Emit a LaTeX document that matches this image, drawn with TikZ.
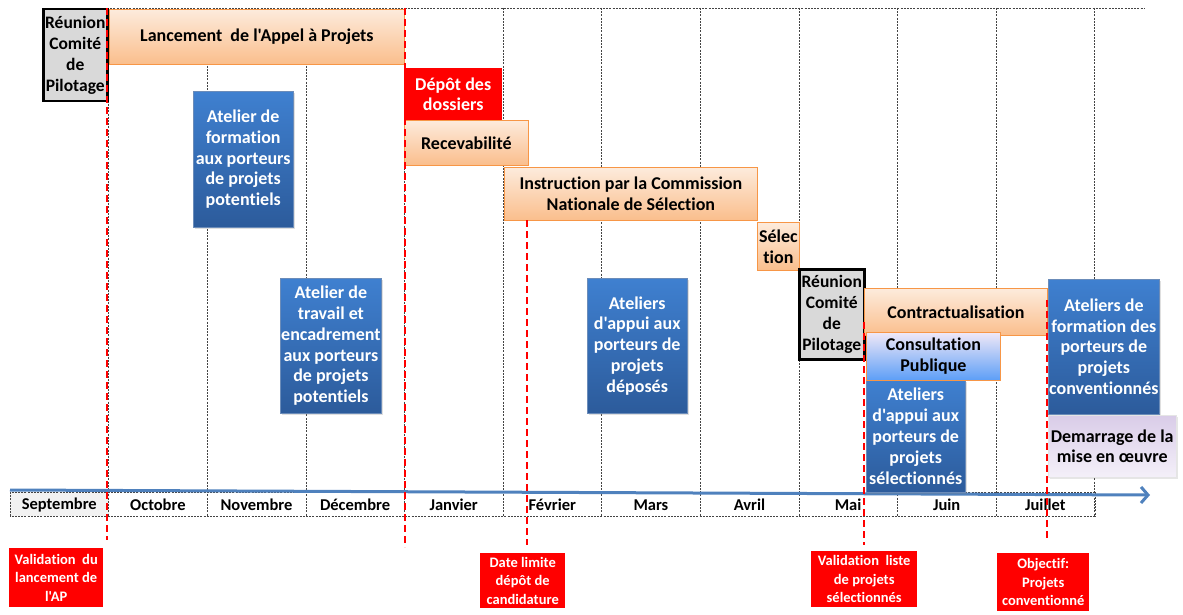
\documentclass[tikz,border=0pt]{standalone}
\usepackage{fontspec}
\setmainfont{Carlito}[Ligatures={TeXOff,NoCommon}]
\usetikzlibrary{shadows,arrows.meta}
\definecolor{ortop}{HTML}{FDEBDC}
\definecolor{orbot}{HTML}{FABE8C}
\definecolor{orbd}{HTML}{F79646}
\definecolor{bltop}{HTML}{3F80D0}
\definecolor{blbot}{HTML}{2C5B9B}
\definecolor{gridc}{HTML}{444444}
\definecolor{arrowc}{HTML}{4F81BD}
\definecolor{lavtop}{HTML}{D9CCE8}
\definecolor{lavbot}{HTML}{F4F0F9}
\definecolor{cptop}{HTML}{F0E8F7}
\definecolor{cpbot}{HTML}{5C9EF7}
\tikzset{
  txt/.style={font=\bfseries\fontsize{18}{20.8}\selectfont, align=center, inner sep=1pt, anchor=north west},
  orbox/.style={txt, draw=orbd, line width=0.8pt, top color=ortop, bottom color=orbot},
  bluebox/.style={txt, text=white, top color=bltop, bottom color=blbot, draw=blbot!70!white, line width=0.4pt,
     drop shadow={opacity=0.25, shadow xshift=1.5pt, shadow yshift=-1.5pt}},
  redbox/.style={txt, text=white, fill=red},
  pilot/.style={txt, fill=black!15, draw=black, line width=2.5pt, font=\bfseries\fontsize{17.5}{21}\selectfont},
  lavbox/.style={txt, top color=lavtop, bottom color=lavbot, draw=white!90!black, line width=0.4pt,
     drop shadow={opacity=0.2, shadow xshift=1.5pt, shadow yshift=-1.5pt}},
  cpbox/.style={txt, top color=cptop, bottom color=cpbot, draw=orbd, line width=0.8pt},
  milestone/.style={txt, text=white, fill=red, font=\bfseries\fontsize{14.5}{18.5}\selectfont},
  gridline/.style={gridc, line width=0.6pt, dash pattern=on 2pt off 1.2pt},
  reddash/.style={red, line width=2.2pt, dash pattern=on 7pt off 4pt},
  month/.style={font=\bfseries\fontsize{16.5}{18}\selectfont, inner sep=0pt}
}
\begin{document}
\begin{tikzpicture}[x=1pt,y=-1pt]
\useasboundingbox (0,0) rectangle (1183,615);
% grid
\fill[black!5] (10,492) rectangle (108.6,516);
\draw[gridline] (107,8) -- (1145,8);
\foreach \i in {1,...,11} {
  \draw[gridline] ({10+98.6*\i},8) -- ({10+98.6*\i},516);
}
\draw[gridline] (10,492) rectangle (1095,516);
\foreach \m [count=\i from 0] in {Septembre,Octobre,Novembre,Décembre,Janvier,Février,Mars,Avril,Mai,Juin,Juillet} {
  \node[month] (m\i) at ({10+98.6*\i+49.3},505) {\m};
}
% time arrow
\draw[arrowc, line width=3pt, -{Straight Barb[length=7pt,width=16pt,line width=3pt]}] (10,490) -- (1150,495);
% boxes
\node[pilot, minimum width=64pt, minimum height=92pt] (rcp1) at (42,8) {Réunion\\Comité\\de\\Pilotage};
\node[orbox, minimum width=295pt, minimum height=55pt] (lanc) at (109,9) {Lancement\ \ de l'Appel à Projets};
\node[redbox, minimum width=98pt, minimum height=52pt] (depot) at (404,68) {Dépôt des\\dossiers};
\node[orbox, minimum width=124pt, minimum height=45pt] (recev) at (404,120) {Recevabilité};
\node[orbox, minimum width=253pt, minimum height=53pt] (instr) at (504,167) {Instruction par la Commission\\Nationale de Sélection};
\node[orbox, minimum width=42pt, minimum height=48pt, inner sep=0pt] (selec) at (757,222) {Sélec\\tion};
\node[pilot, minimum width=65pt, minimum height=90pt] (rcp2) at (798,268) {Réunion\\Comité\\de\\Pilotage};
\node[orbox, minimum width=183pt, minimum height=47pt] (contr) at (864,288) {Contractualisation};
\node[bluebox, minimum width=100pt, minimum height=136pt] (atf) at (193,91) {Atelier de\\formation\\aux porteurs\\de projets\\potentiels};
\node[bluebox, minimum width=100pt, minimum height=135pt] (att) at (280,278) {Atelier de\\travail et\\encadrement\\aux porteurs\\de projets\\potentiels};
\node[bluebox, minimum width=100pt, minimum height=135pt] (atd) at (587,278) {Ateliers\\d'appui aux\\porteurs de\\projets\\déposés};
\node[bluebox, minimum width=99pt, minimum height=112pt] (ats) at (866,380) {Ateliers\\d'appui aux\\porteurs de\\projets\\sélectionnés};
\node[cpbox, minimum width=134pt, minimum height=48pt] (cons) at (866,332) {Consultation\\Publique};
\node[bluebox, minimum width=109pt, minimum height=135pt] (atc) at (1048,279) {Ateliers de\\formation des\\porteurs de\\projets\\conventionnés};
\node[lavbox, minimum width=128pt, minimum height=62pt] (dem) at (1048,415) {Demarrage de la\\mise en œuvre};
% milestones
\node[milestone, minimum width=94pt, minimum height=59pt] (v1) at (9,548) {Validation\ \ du\\lancement de\\l'AP};
\node[milestone, minimum width=85pt, minimum height=55pt] (v2) at (480,553) {Date limite\\dépôt de\\candidature};
\node[milestone, minimum width=106pt, minimum height=56pt] (v3) at (811,551) {Validation\ \ liste\\de projets\\sélectionnés};
\node[milestone, minimum width=92pt, minimum height=58pt] (v4) at (997,553) {Objectif:\\Projets\\conventionné};
% red dashed milestones
\draw[reddash] (107,8) -- (107,540);
\draw[reddash] (405,8) -- (405,547);
\draw[reddash] (527,220) -- (527,545);
\draw[reddash] (864,322) -- (864,545);
\draw[reddash] (1047,300) -- (1047,540);
\end{tikzpicture}
\end{document}
